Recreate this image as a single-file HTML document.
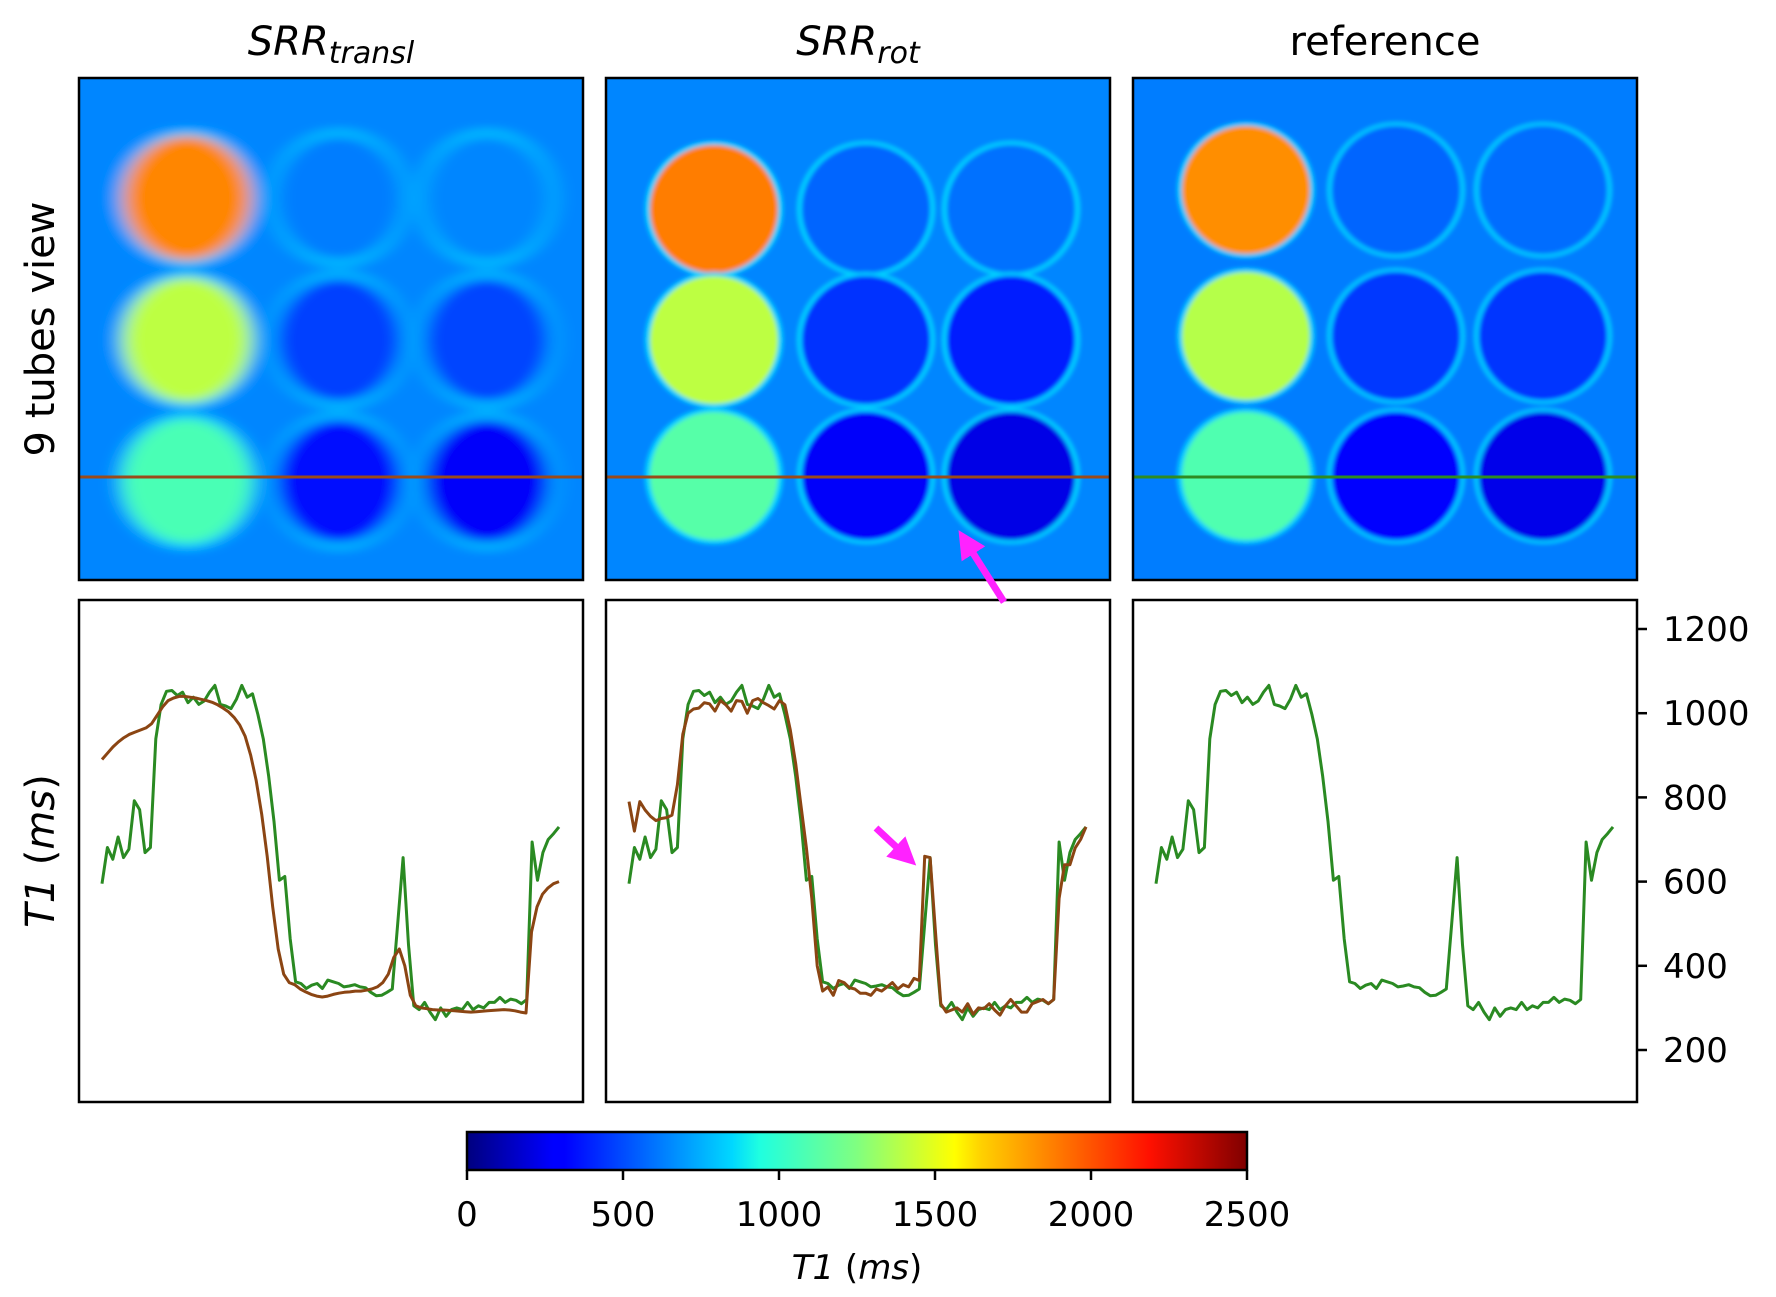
<!DOCTYPE html>
<html><head><meta charset="utf-8">
<style>
html,body{margin:0;padding:0;background:#fff;}
svg{display:block;font-family:"DejaVu Sans","Liberation Sans",sans-serif;}
</style></head>
<body>
<svg id="fig" width="1776" height="1297" viewBox="0 0 1776 1297" xmlns="http://www.w3.org/2000/svg">
<defs>
<linearGradient id="jet" x1="0" x2="1" y1="0" y2="0">
<stop offset="0" stop-color="#00007f"/><stop offset="0.11" stop-color="#0000ff"/><stop offset="0.125" stop-color="#0000ff"/>
<stop offset="0.34" stop-color="#00d8ff"/><stop offset="0.375" stop-color="#1fffe0"/><stop offset="0.5" stop-color="#80ff80"/>
<stop offset="0.625" stop-color="#ffff00"/><stop offset="0.66" stop-color="#ffd000"/><stop offset="0.875" stop-color="#ff1000"/><stop offset="1" stop-color="#7f0000"/>
</linearGradient>
<filter id="smear" x="-10%" y="-10%" width="120%" height="120%"><feGaussianBlur stdDeviation="9 5"/></filter>
<filter id="soft" x="-10%" y="-10%" width="120%" height="120%"><feGaussianBlur stdDeviation="2"/></filter>
<clipPath id="c0"><rect x="79" y="78" width="504" height="502"/></clipPath>
<clipPath id="c1"><rect x="606" y="78" width="503" height="502"/></clipPath>
<clipPath id="c2"><rect x="1133" y="78" width="503" height="502"/></clipPath>
<marker id="ah" markerWidth="4" markerHeight="4" refX="2" refY="2" orient="auto"><path d="M0,0 L4,2 L0,4 z" fill="#ff22ff"/></marker>
</defs>
<g id="root"></g>
</svg>
<script>
// ---- data ----
const greenRef = [595,681,653,706,657,677,792,771,669,681, 939,1021,
 1052,1054,1042,1050,1025,1038,1021,1029,1050,1066,1021,1017,1011,1033,1066,1038,1046,
 997,939,850,743,603,612,464,
 362,358,346,354,358,346,366,362,358,350,352,355,350,348,337,329,330,337,345,
 500,657,450,305,
 296,313,290,272,300,280,296,300,296,313,296,305,300,313,313,325,313,321,318,310,320,
 694,603,669,700,714,730];
const brownTransl = [890,905,920,932,942,950,955,960,965,975,995,1015,1030,1036,1040,
 1040,1038,1036,1033,1030,1026,1020,1012,1003,990,972,945,900,840,760,660,540,440,380,360,355,
 345,338,332,328,326,328,332,335,337,338,340,340,342,345,350,360,380,420,440,400,330,305,
 300,298,296,295,295,294,293,292,291,290,291,292,293,294,295,296,295,293,290,288,
 480,540,570,585,595,600];
const brownRot = [790,720,790,770,755,745,750,752,758,830,950,1000,
 1010,1012,1025,1022,1005,1030,1020,1005,1030,1028,1000,1030,1035,1025,1018,1010,1030,1020,
 960,880,780,680,560,400,
 340,350,330,365,360,348,345,335,335,330,345,340,350,360,345,355,350,370,365,
 660,657,480,310,
 290,295,300,290,310,285,300,298,310,295,283,305,320,305,290,290,310,315,320,310,320,
 560,640,640,680,700,730];
const yTicks = [200,400,600,800,1000,1200];
const cbTicks = [0,500,1000,1500,2000,2500];
// tube T1 values row-major (3x3) per panel
const tubesTransl = [1860,620,640, 1400,470,480, 1120,330,300];
const tubesRot = [1880,560,590, 1400,430,380, 1150,300,250];
const tubesRef = [1840,560,580, 1380,450,440, 1130,320,260];
const bgVals = [640,640,620];

const NS="http://www.w3.org/2000/svg";
const root=document.getElementById('root');
function el(tag,attrs,parent){const e=document.createElementNS(NS,tag);for(const k in attrs)e.setAttribute(k,attrs[k]);(parent||root).appendChild(e);return e;}
function jet(v){let t=Math.max(0,Math.min(1,v/2500));
 const f=(x)=>Math.max(0,Math.min(1,1.5-Math.abs(4*t-x)));
 return `rgb(${Math.round(255*f(3))},${Math.round(255*f(2))},${Math.round(255*f(1))})`;}

const panelX=[79,606,1133], pw=504, topY=78, ph=502, botY=600;
const titles=[["SRR","transl"],["SRR","rot"],["reference",""]];
const tubeSets=[tubesTransl,tubesRot,tubesRef];
const cxs=[[108,260,408],[108,260,405],[113,263,410]];
const cys=[[120,262,403],[131,262,398],[112,258,398]];

// titles
titles.forEach((t,p)=>{
 const tx=el('text',{x:panelX[p]+pw/2,y:55,'text-anchor':'middle','font-size':40});
 
 
 if(t[1]){tx.setAttribute('font-style','italic');
  const a=el('tspan',{},tx);a.textContent=t[0];
  const b=el('tspan',{'font-size':30,dy:8},tx);b.textContent=t[1];}
 else tx.textContent=t[0];
});

// heatmap panels
for(let p=0;p<3;p++){
 const g=el('g',{'clip-path':`url(#c${p})`});
 
 
 el('rect',{x:panelX[p],y:topY,width:pw,height:ph,fill:jet(bgVals[p])},g);
 const inner=el('g',{filter:p===0?'url(#smear)':'url(#soft)'},g);
 el('rect',{x:panelX[p]-20,y:topY-20,width:pw+40,height:ph+40,fill:jet(bgVals[p])},inner);
 for(let r=0;r<3;r++)for(let c=0;c<3;c++){
  const v=tubeSets[p][r*3+c];
  const rr=64;
  el('ellipse',{cx:panelX[p]+cxs[p][c],cy:topY+cys[p][r],rx:rr+5,ry:rr+4,fill:jet(bgVals[p]+180)},inner);
  const t=el('ellipse',{cx:panelX[p]+cxs[p][c],cy:topY+cys[p][r],rx:rr,ry:rr-(p===0?2:0),fill:jet(v)},inner);
  
  
 }
 const ln=el('line',{x1:panelX[p],x2:panelX[p]+pw,y1:477,y2:477,stroke:p===2?'#2e8b22':'#9a4a1a','stroke-width':3});
 
 
 const fr=el('rect',{x:panelX[p],y:topY,width:pw,height:ph,fill:'none',stroke:'#000','stroke-width':2.5});
 
 
}

// profile plots
const yScale=v=>1050-(v-200)*0.421;
function xScale(p,i,n){return panelX[p]+23+i/(n-1)*457;}
function series(p,arr,color,name){
 const pts=arr.map((v,i)=>xScale(p,i,arr.length).toFixed(1)+','+yScale(v).toFixed(1)).join(' ');
 const pl=el('polyline',{points:pts,fill:'none',stroke:color,'stroke-width':3,'stroke-linejoin':'round'});
 
 
}
for(let p=0;p<3;p++){
 const fr=el('rect',{x:panelX[p],y:botY,width:pw,height:ph,fill:'none',stroke:'#000','stroke-width':2.5});
 
 
 series(p,greenRef,'#2a8a22','reference-profile');
 if(p===0) series(p,brownTransl,'#8b4513','srr-transl-profile');
 if(p===1) series(p,brownRot,'#8b4513','srr-rot-profile');
}
// y axis (right)
const axR=panelX[2]+pw;
yTicks.forEach(v=>{
 el('line',{x1:axR,x2:axR+10,y1:yScale(v),y2:yScale(v),stroke:'#000','stroke-width':2.5});
 const t=el('text',{x:axR+26,y:yScale(v)+12,'font-size':34});
 
 
 t.textContent=v;
});
// row labels
const rl=el('text',{x:0,y:0,'font-size':40,'text-anchor':'middle',transform:'translate(54,329) rotate(-90)'});


rl.textContent='9 tubes view';
const yl=el('text',{x:0,y:0,'font-size':40,'text-anchor':'middle',transform:'translate(54,851) rotate(-90)'});


const y1=el('tspan',{'font-style':'italic'},yl);y1.textContent='T1';
const y2=el('tspan',{},yl);y2.textContent=' (';
const y3=el('tspan',{'font-style':'italic'},yl);y3.textContent='ms';
const y4=el('tspan',{},yl);y4.textContent=')';

// arrows
const a1=el('line',{x1:1004,y1:602,x2:966,y2:542,stroke:'#ff22ff','stroke-width':7,'marker-end':'url(#ah)'});


const a2=el('line',{x1:876,y1:828,x2:906,y2:856,stroke:'#ff22ff','stroke-width':7,'marker-end':'url(#ah)'});



// colorbar
const cbx=467, cbw=780, cby=1132, cbh=38;
const cb=el('rect',{x:cbx,y:cby,width:cbw,height:cbh,fill:'url(#jet)',stroke:'#000','stroke-width':2.5});


cbTicks.forEach(v=>{
 const x=cbx+v/2500*cbw;
 el('line',{x1:x,x2:x,y1:cby+cbh,y2:cby+cbh+10,stroke:'#000','stroke-width':2.5});
 const t=el('text',{x:x,y:cby+cbh+56,'font-size':34,'text-anchor':'middle'});
 
 
 t.textContent=v;
});
const cl=el('text',{x:cbx+cbw/2,y:1279,'font-size':34,'text-anchor':'middle'});


const c1=el('tspan',{'font-style':'italic'},cl);c1.textContent='T1';
const c2=el('tspan',{},cl);c2.textContent=' (';
const c3=el('tspan',{'font-style':'italic'},cl);c3.textContent='ms';
const c4=el('tspan',{},cl);c4.textContent=')';
</script>
</body></html>
